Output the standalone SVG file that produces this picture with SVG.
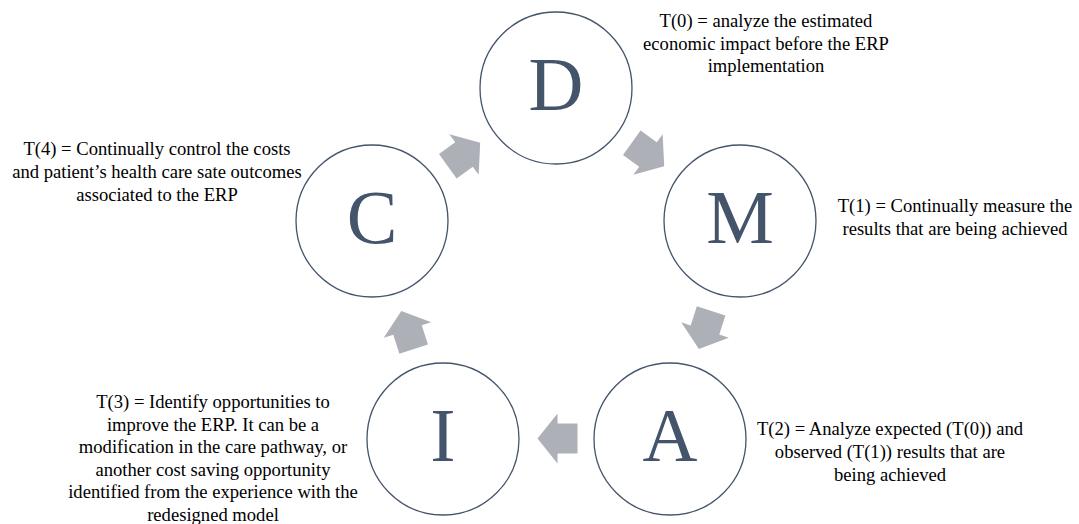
<svg xmlns="http://www.w3.org/2000/svg" width="1079" height="524" viewBox="0 0 1079 524">
<style>
.node circle{fill:#fff;stroke:#44546A;stroke-width:1.3}
.letter{font-family:'Liberation Serif',serif;font-size:76px;fill:#44546A;text-anchor:middle}
.lbl{font-family:'Liberation Serif',serif;font-size:18.6px;fill:#000;text-anchor:middle}
.arr{fill:#ADB0B7}
</style>
<defs>
<path id="blk" d="M-20,-15 L0,-15 L0,-25 L20,0 L0,25 L0,15 L-20,15 Z"/>
</defs>
<g id="connectors">
<use href="#blk" class="arr" transform="translate(648,154.5) rotate(35.9)"/>
<use href="#blk" class="arr" transform="translate(705,330) rotate(107.8)"/>
<use href="#blk" class="arr" transform="translate(557.5,438.5) rotate(180)"/>
<use href="#blk" class="arr" transform="translate(407.5,330) rotate(252)"/>
<use href="#blk" class="arr" transform="translate(464,154.5) rotate(-35.9)"/>
</g>
<g id="node-D" class="node"><circle cx="556" cy="88" r="76"/><text class="letter" x="556" y="110">D</text></g>
<g id="node-M" class="node"><circle cx="740" cy="221" r="76"/><text class="letter" x="740" y="243">M</text></g>
<g id="node-A" class="node"><circle cx="670" cy="439" r="76"/><text class="letter" x="670" y="461">A</text></g>
<g id="node-I" class="node"><circle cx="443" cy="439" r="76"/><text class="letter" x="443" y="461">I</text></g>
<g id="node-C" class="node"><circle cx="372" cy="221" r="76"/><text class="letter" x="372" y="243">C</text></g>
<g id="label-T0"><text class="lbl" x="766" y="27"><tspan x="766">T(0) = analyze the estimated</tspan><tspan x="766" dy="22.5">economic impact before the ERP</tspan><tspan x="766" dy="22.5">implementation</tspan></text></g>
<g id="label-T1"><text class="lbl" x="955" y="212"><tspan x="955">T(1) = Continually measure the</tspan><tspan x="955" dy="22.5">results that are being achieved</tspan></text></g>
<g id="label-T2"><text class="lbl" x="890" y="435"><tspan x="890">T(2) = Analyze expected (T(0)) and</tspan><tspan x="890" dy="23">observed (T(1)) results that are</tspan><tspan x="890" dy="23">being achieved</tspan></text></g>
<g id="label-T3"><text class="lbl" x="213" y="408"><tspan x="213">T(3) = Identify opportunities to</tspan><tspan x="213" dy="22.6">improve the ERP. It can be a</tspan><tspan x="213" dy="22.6">modification in the care pathway, or</tspan><tspan x="213" dy="22.6">another cost saving opportunity</tspan><tspan x="213" dy="22.6">identified from the experience with the</tspan><tspan x="213" dy="22.6">redesigned model</tspan></text></g>
<g id="label-T4"><text class="lbl" x="157" y="155"><tspan x="157">T(4) = Continually control the costs</tspan><tspan x="157" dy="23">and patient’s health care sate outcomes</tspan><tspan x="157" dy="23">associated to the ERP</tspan></text></g>
</svg>
